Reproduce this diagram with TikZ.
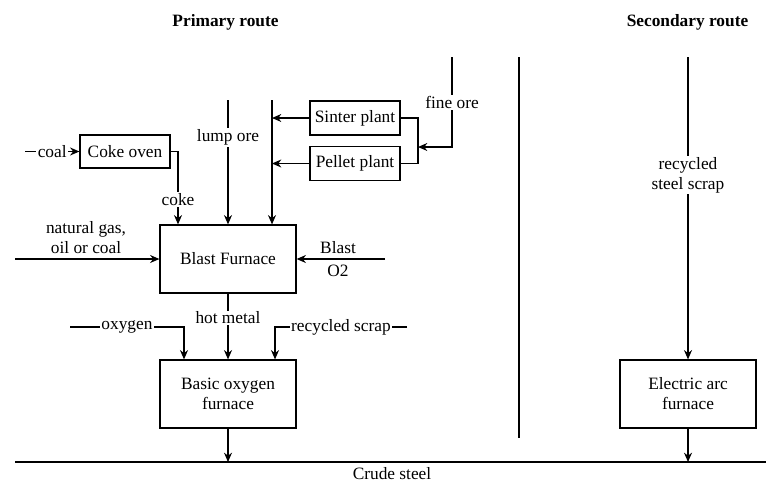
\documentclass[tikz,border=0pt]{standalone}
\usepackage{fontspec}
\setmainfont{Liberation Serif}
\usetikzlibrary{arrows.meta}
\begin{document}
\begin{tikzpicture}[x=0.75pt,y=-0.75pt,
  font=\fontsize{13}{15}\selectfont,
  box/.style={draw, line width=0.9pt, inner sep=0pt, align=center},
  flow/.style={line width=0.9pt},
  arr/.style={flow, -{Stealth[length=7pt,width=6pt]}},
  lbl/.style={fill=white, inner sep=1pt, align=center},
  ttl/.style={font=\fontsize{13}{15}\selectfont\bfseries}]
\useasboundingbox (0,0) rectangle (766,482);

% titles
\node[ttl] (t1) at (225.5,22) {Primary route};
\node[ttl] (t2) at (687.5,22) {Secondary route};

% boxes
\node[box, minimum width=67.5pt, minimum height=24.75pt] (coke) at (125,151.5) {Coke oven};
\node[box, minimum width=67.5pt, minimum height=25.5pt] (sinter) at (355,118) {Sinter plant};
\node[box, minimum width=67.5pt, minimum height=25pt] (pellet) at (355,163.5) {Pellet plant};
\node[box, minimum width=102pt, minimum height=51pt] (BF) at (228,259) {Blast Furnace};
\node[box, minimum width=102pt, minimum height=51pt] (BOF) at (228,394) {Basic oxygen\\furnace};
\node[box, minimum width=102pt, minimum height=51pt] (EAF) at (688,394) {Electric arc\\furnace};

% coordinates
\coordinate (coalS) at (25,151.5);
\coordinate (cokeX) at (178,0);
\coordinate (lumpS) at (228,100);
\coordinate (agg) at (272,100);
\coordinate (br) at (418,0);
\coordinate (fineS) at (452,57);
\coordinate (fineT) at (418,147);
\coordinate (ngS) at (15,259);
\coordinate (blS) at (385,259);
\coordinate (oxS) at (70,327);
\coordinate (oxX) at (184,0);
\coordinate (scS) at (407,327);
\coordinate (scX) at (275,0);
\coordinate (csL) at (15,462);
\coordinate (csR) at (766,462);
\coordinate (csT) at (392,479);
\coordinate (eafS) at (688,57);
\coordinate (divT) at (519,57);
\coordinate (divB) at (519,438);

% coke oven
\draw[arr] (coalS) -- node[lbl]{coal} (coke.west);
\draw[arr] (coke.east) -| node[lbl,pos=0.83]{coke} (cokeX |- BF.north);

% ore
\draw[arr] (lumpS) -- node[lbl,pos=0.3]{lump ore} (lumpS |- BF.north);
\draw[arr] (agg) -- (agg |- BF.north);
\draw[arr] (sinter.west) -- (sinter.west -| agg);
\draw[arr] (pellet.west) -- (pellet.west -| agg);
\draw[flow] (sinter.east) -| (br |- pellet.east) -- (pellet.east);
\draw[arr] (fineS) |- node[lbl,pos=0.255]{fine ore} (fineT);

% blast furnace inputs
\draw[arr] (ngS) -- (BF.west);
\node[align=center] (ngL) at (86,238) {natural gas,\\oil or coal};
\draw[arr] (blS) -- (BF.east);
\node (blL) at (338,248) {Blast};
\node (o2L) at (338,271) {O2};

% BOF
\draw[arr] (BF.south) -- node[lbl,pos=0.37]{hot metal} (BOF.north);
\draw[arr] (oxS) -| node[lbl,pos=0.25]{oxygen} (oxX |- BOF.north);
\draw[arr] (scS) -| node[lbl,pos=0.25]{recycled scrap} (scX |- BOF.north);

% crude steel
\draw[flow] (csL) -- (csR);
\node[anchor=base, inner sep=0pt] (csLbl) at (csT) {Crude steel};
\draw[arr] (BOF.south) -- (BOF.south |- csL);

% secondary route
\draw[flow] (divT) -- (divB);
\draw[arr] (eafS) -- node[lbl,pos=0.39]{recycled\\steel scrap} (EAF.north);
\draw[arr] (EAF.south) -- (EAF.south |- csL);
\end{tikzpicture}
\end{document}
